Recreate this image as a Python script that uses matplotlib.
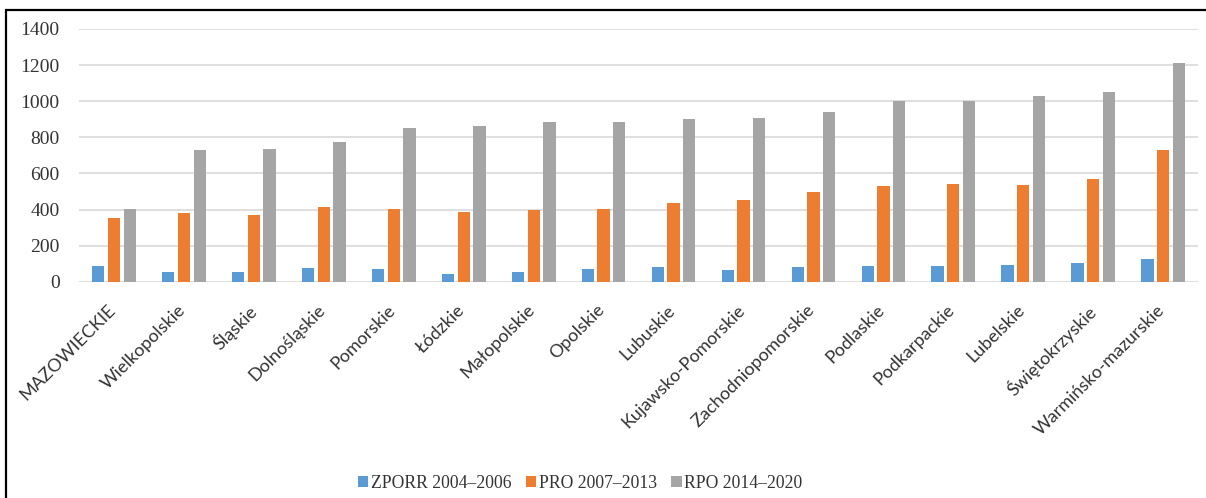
import matplotlib.pyplot as plt
import matplotlib.transforms as mtransforms
from matplotlib.patches import Rectangle
import numpy as np

regions = ["MAZOWIECKIE", "Wielkopolskie", "Śląskie", "Dolnośląskie", "Pomorskie",
           "Łódzkie", "Małopolskie", "Opolskie", "Lubuskie", "Kujawsko-Pomorskie",
           "Zachodniopomorskie", "Podlaskie", "Podkarpackie", "Lubelskie",
           "Świętokrzyskie", "Warmińsko-mazurskie"]

zporr = [87, 57, 57, 76, 72, 42, 55, 72, 85, 68, 81, 90, 90, 92, 102, 129]
pro = [356, 379, 371, 416, 404, 386, 397, 404, 434, 454, 495, 528, 543, 537, 567, 728]
rpo = [406, 728, 735, 774, 850, 864, 887, 885, 900, 909, 940, 999, 1003, 1031, 1053, 1210]

series_names = ["ZPORR 2004–2006", "PRO 2007–2013", "RPO 2014–2020"]
colors = ["#5B9BD5", "#ED7D31", "#A5A5A5"]

fig = plt.figure(figsize=(12.06, 4.98), dpi=100)
ax = fig.add_axes([0.0655, 0.434, 0.928, 0.508])

x = np.arange(len(regions))
bw = 0.175
step = 0.225
for i, (vals, name, c) in enumerate(zip([zporr, pro, rpo], series_names, colors)):
    ax.bar(x + (i - 1) * step, vals, width=bw, color=c, label=name, zorder=3)

ax.set_xlim(-0.5, len(regions) - 0.5)
ax.set_ylim(0, 1400)
ax.set_yticks(range(0, 1401, 200))
ax.grid(axis="y", color="#D9D9D9", linewidth=1.2, zorder=0)
ax.tick_params(axis="both", length=0)
ax.tick_params(axis="y", pad=14)
for s in ax.spines.values():
    s.set_visible(False)

for lbl in ax.get_yticklabels():
    lbl.set_fontfamily("Liberation Serif")
    lbl.set_fontsize(14)
    lbl.set_color("#333333")

ax.set_xticks(x)
ax.set_xticklabels(regions, rotation=45, ha="right", va="top",
                   rotation_mode="anchor", fontfamily="Lato", fontsize=13,
                   color="#333333")
offset = mtransforms.ScaledTranslation(-0.07, -0.15, fig.dpi_scale_trans)
for lbl in ax.get_xticklabels():
    lbl.set_transform(lbl.get_transform() + offset)

leg = fig.legend(loc="center", bbox_to_anchor=(0.481, 0.030), ncol=3,
                 frameon=False, handlelength=0.6, handleheight=0.6,
                 handletextpad=0.15, columnspacing=0.8,
                 prop={"family": "Liberation Serif", "size": 12.7})
for t in leg.get_texts():
    t.set_color("#333333")

fig.patches.append(Rectangle((0.005, -0.01), 1.0, 0.99, transform=fig.transFigure,
                             fill=False, edgecolor="black", linewidth=1.6))

fig.savefig("out.png", dpi=100)
